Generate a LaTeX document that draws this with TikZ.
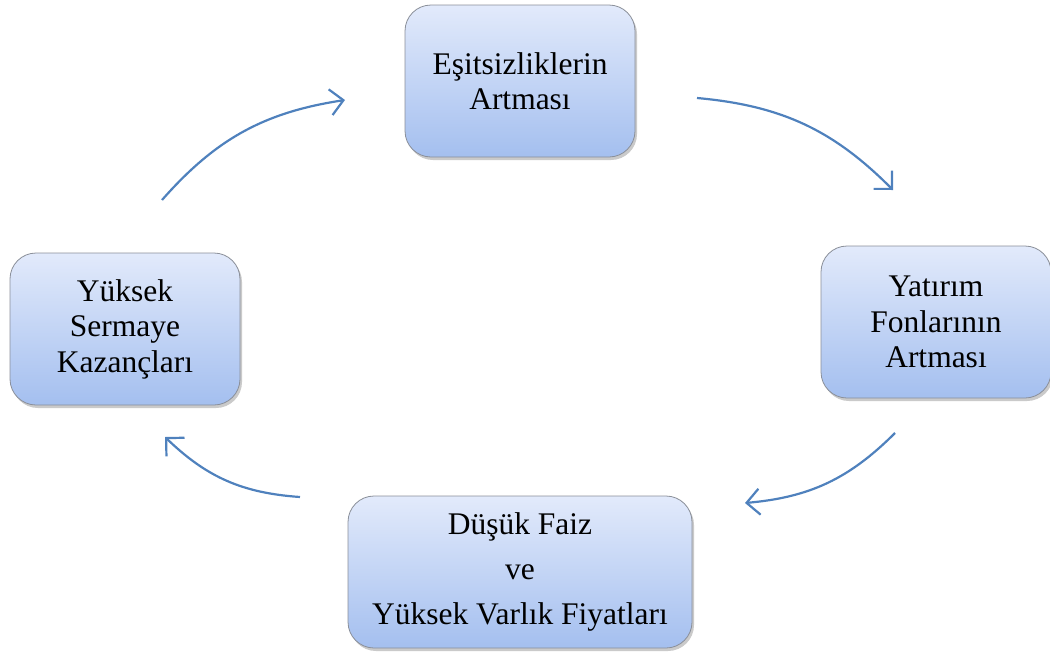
\documentclass[tikz,border=0pt]{standalone}
\usepackage{fontspec}
\setmainfont{Liberation Serif}
\usetikzlibrary{arrows.meta,shadows}
\definecolor{boxtop}{HTML}{E2EAFB}
\definecolor{boxbot}{HTML}{A4BFEF}
\definecolor{boxedge}{HTML}{8A8F99}
\definecolor{arrowblue}{HTML}{4F81BD}
\tikzset{
  cyclebox/.style={draw=boxedge, line width=0.8pt, rounded corners=26pt,
    top color=boxtop, bottom color=boxbot, align=center,
    minimum width=230pt, minimum height=152pt, inner sep=0pt,
    font=\fontsize{31.5}{35.5}\selectfont,
    drop shadow={shadow xshift=2pt, shadow yshift=-3pt, opacity=0.35, fill=black!60}},
  cyclearrow/.style={draw=arrowblue, line width=2.2pt,
    -{Straight Barb[length=13pt,width=26pt,line width=2.2pt]}}
}
\begin{document}
\begin{tikzpicture}[x=1pt,y=-1pt]
\useasboundingbox (0,0) rectangle (1050,651);
\node[cyclebox] (top) at (520,81) {Eşitsizliklerin\\Artması};
\node[cyclebox] (right) at (936,322) {Yatırım\\Fonlarının\\Artması};
\node[cyclebox] (left) at (125,329) {Yüksek\\Sermaye\\Kazançları};
\node[cyclebox, minimum width=344pt, font=\fontsize{31.5}{45}\selectfont] (bottom) at (520,572) {Düşük Faiz\\ve\\Yüksek Varlık Fiyatları};
\coordinate (a1s) at (162,200);
\coordinate (a1e) at (345,100);
\coordinate (a2s) at (697,98);
\coordinate (a2e) at (893,190);
\coordinate (a3s) at (895,433);
\coordinate (a3e) at (745,503);
\coordinate (a4s) at (300,497);
\coordinate (a4e) at (165,437);
\draw[cyclearrow] (a1s) to[bend left=20] (a1e);
\draw[cyclearrow] (a2s) to[bend left=20] (a2e);
\draw[cyclearrow] (a3s) to[bend left=20] (a3e);
\draw[cyclearrow] (a4s) to[bend left=20] (a4e);
\end{tikzpicture}
\end{document}
